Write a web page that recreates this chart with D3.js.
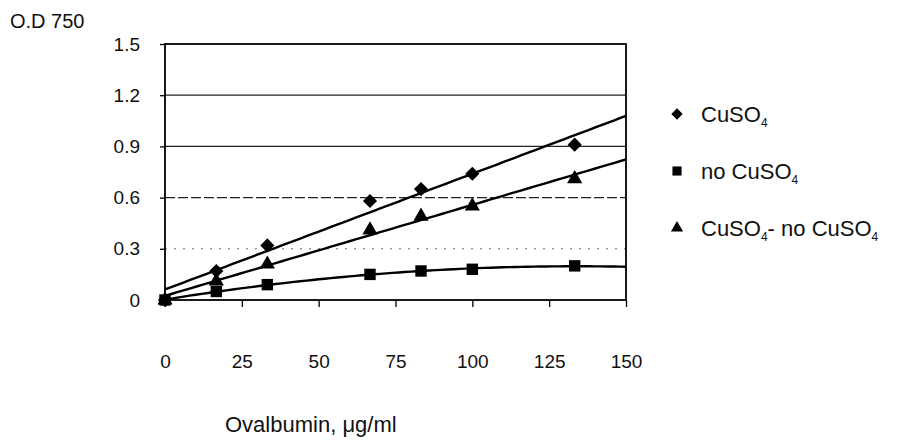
<!DOCTYPE html>
<html>
<head>
  <meta charset="UTF-8" />
  <title>O.D 750 vs Ovalbumin</title>
  <script src="https://cdn.jsdelivr.net/npm/d3@7"></script>
  <style>
    body { margin: 0; background: #fff; }
    svg { display: block; font-family: 'Liberation Sans', Arial, sans-serif; }
  </style>
</head>
<body>
  <svg id="chart" width="899" height="444"></svg>
  <script>
    // values
    const ovalbumin = [0, 16.7, 33.3, 66.7, 83.3, 100, 133.3];
    const withCuSO4 = [0, 0.17, 0.32, 0.58, 0.65, 0.74, 0.91];
    const noCuSO4 = [0, 0.05, 0.09, 0.15, 0.17, 0.18, 0.2];
    const difference = [0, 0.11, 0.21, 0.41, 0.49, 0.55, 0.71];

    const xTicks = [0, 25, 50, 75, 100, 125, 150];
    const yTicks = [0, 0.3, 0.6, 0.9, 1.2, 1.5];

    const width = 899, height = 444;
    const margin = { top: 44, right: 273, bottom: 144, left: 165 };

    const svg = d3.select('#chart');

    const x = d3.scaleLinear().domain([0, 150]).range([margin.left, width - margin.right]);
    const y = d3.scaleLinear().domain([0, 1.5]).range([height - margin.bottom, margin.top]);

    // gridlines (the scan breaks up the lower ones)
    svg.append('g')
      .selectAll('line')
      .data(yTicks.filter(d => d > 0 && d < 1.5))
      .enter()
      .append('line')
      .attr('x1', x(0)).attr('x2', x(150))
      .attr('y1', d => y(d)).attr('y2', d => y(d))
      .attr('stroke', d => d == 0.3 ? '#666' : '#222')
      .attr('stroke-width', d => d == 0.3 ? 1 : 1.3)
      .attr('stroke-dasharray', d => d == 0.3 ? '2,7' : d == 0.6 ? '10,3' : null);

    // frame
    svg.append('rect')
      .attr('x', x(0)).attr('y', y(1.5))
      .attr('width', x(150) - x(0)).attr('height', y(0) - y(1.5))
      .attr('fill', 'none').attr('stroke', '#000').attr('stroke-width', 1.8);

    const yAxis = svg.append('g')
      .attr('transform', 'translate(' + x(0) + ',0)')
      .call(d3.axisLeft(y).tickValues(yTicks).tickFormat(d => d == 0 ? '0' : d3.format('.1f')(d)).tickSize(5).tickPadding(20));
    yAxis.select('.domain').remove();

    const xAxis = svg.append('g')
      .attr('transform', 'translate(0,' + y(0) + ')')
      .call(d3.axisBottom(x).tickValues(xTicks).tickSize(7).tickPadding(48));
    xAxis.select('.domain').remove();

    svg.selectAll('.tick text').attr('font-size', 19).attr('fill', '#111')
      .attr('font-family', "'Liberation Sans', Arial, sans-serif");
    svg.selectAll('.tick line').attr('stroke', '#000').attr('stroke-width', 1.3);

    // trend lines
    function linearFit(xs, ys) {
      const mx = d3.mean(xs), my = d3.mean(ys);
      const sxy = d3.sum(xs, (v, i) => (v - mx) * (ys[i] - my));
      const sxx = d3.sum(xs, v => (v - mx) * (v - mx));
      const b = sxy / sxx;
      return t => my - b * mx + b * t;
    }

    function quadFit(xs, ys) {
      // normal equations for y = a + b x + c x^2
      const s = k => d3.sum(xs, v => Math.pow(v, k));
      const t = k => d3.sum(xs, (v, i) => Math.pow(v, k) * ys[i]);
      const m = [
        [s(0), s(1), s(2), t(0)],
        [s(1), s(2), s(3), t(1)],
        [s(2), s(3), s(4), t(2)]
      ];
      for (let i = 0; i < 3; i++) {
        for (let j = i + 1; j < 3; j++) {
          const f = m[j][i] / m[i][i];
          for (let k = i; k < 4; k++) m[j][k] -= f * m[i][k];
        }
      }
      const c = m[2][3] / m[2][2];
      const b = (m[1][3] - m[1][2] * c) / m[1][1];
      const a = (m[0][3] - m[0][1] * b - m[0][2] * c) / m[0][0];
      return v => a + b * v + c * v * v;
    }

    const fits = [linearFit(ovalbumin, withCuSO4), quadFit(ovalbumin, noCuSO4), linearFit(ovalbumin, difference)];
    const along = d3.range(0, 150.01, 2);
    const line = d3.line().x(d => x(d[0])).y(d => y(d[1]));

    svg.append('g')
      .selectAll('path')
      .data(fits)
      .enter()
      .append('path')
      .attr('d', f => line(along.map(v => [v, f(v)])))
      .attr('fill', 'none')
      .attr('stroke', '#000')
      .attr('stroke-width', 2.4);

    // markers
    const diamond = d3.symbol(d3.symbolSquare, 100)();
    const square = d3.symbol(d3.symbolSquare, 130)();
    const triangle = d3.symbol(d3.symbolTriangle, 100)();

    const series = [
      { values: withCuSO4, shape: diamond, rot: 45 },
      { values: noCuSO4, shape: square, rot: 0 },
      { values: difference, shape: triangle, rot: 0 }
    ];

    series.forEach(s => {
      svg.append('g')
        .selectAll('path')
        .data(s.values)
        .enter()
        .append('path')
        .attr('d', s.shape)
        .attr('transform', (d, i) => 'translate(' + x(ovalbumin[i]) + ',' + y(d) + ') rotate(' + s.rot + ')')
        .attr('fill', '#000');
    });

    // axis titles
    svg.append('text').attr('x', 10).attr('y', 28)
      .attr('font-size', 20).attr('fill', '#111').text('O.D 750');

    svg.append('text').attr('x', 225).attr('y', 432)
      .attr('font-size', 22).attr('fill', '#111')
      .text('Ovalbumin, \u03bcg/ml');

    // legend
    const legendRows = [
      { shape: diamond, rot: 45, parts: [['CuSO', 0], ['4', 1]] },
      { shape: square, rot: 0, parts: [['no CuSO', 0], ['4', 1]] },
      { shape: triangle, rot: 0, parts: [['CuSO', 0], ['4', 1], ['- no CuSO', 0], ['4', 1]] }
    ];

    const legend = svg.append('g').attr('transform', 'translate(677,114)');
    legendRows.forEach((r, i) => {
      const row = legend.append('g').attr('transform', 'translate(0,' + i * 57 + ')');
      row.append('path').attr('d', r.shape).attr('transform', 'rotate(' + r.rot + ') scale(0.8)').attr('fill', '#000');
      const t = row.append('text').attr('x', 24).attr('y', 8).attr('font-size', 22).attr('fill', '#111');
      r.parts.forEach(p => {
        t.append('tspan')
          .attr('font-size', p[1] ? 12 : 22)
          .attr('dy', p[1] ? 5 : -5)
          .text(p[0]);
      });
      t.select('tspan').attr('dy', 0);
    });
  </script>
</body>
</html>
